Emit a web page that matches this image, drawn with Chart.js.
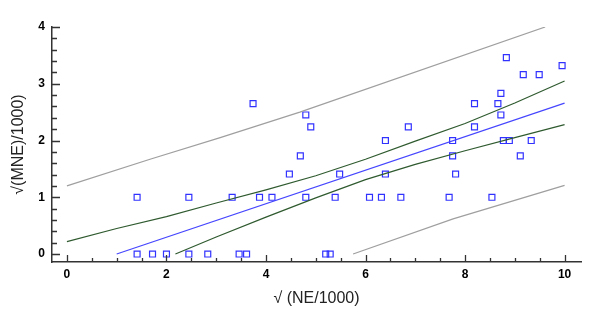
<!DOCTYPE html>
<html>
<head>
<meta charset="utf-8">
<script src="https://cdn.jsdelivr.net/npm/chart.js@4.4.1/dist/chart.umd.min.js"></script>
<style>
  html, body { margin: 0; padding: 0; background: #fff; }
  #wrap { width: 605px; height: 316px; position: relative; }
</style>
</head>
<body>
<div id="wrap"><canvas id="scatterChart"></canvas></div>
<script>
// observed points, sqrt scale
const pointsX = [
  1.41, 1.72, 2.00, 2.45, 2.83, 3.46, 3.61, 5.20, 5.29,
  1.41, 2.45, 3.32, 3.87, 4.12, 4.80, 5.39, 6.08, 6.32, 6.71, 7.68, 8.54,
  4.47, 5.48, 6.40, 7.81,
  4.69, 7.75, 9.11,
  6.40, 7.75, 8.77, 8.89, 9.33,
  4.90, 6.86, 8.19,
  4.80, 8.72,
  3.74, 8.19, 8.66,
  8.72,
  9.17, 9.49,
  9.95,
  8.83,
];
const pointsY = [
  0, 0, 0, 0, 0, 0, 0, 0, 0,
  1, 1, 1, 1, 1, 1, 1, 1, 1, 1, 1, 1,
  1.41, 1.41, 1.41, 1.41,
  1.73, 1.73, 1.73,
  2, 2, 2, 2, 2,
  2.24, 2.24, 2.24,
  2.45, 2.45,
  2.65, 2.65, 2.65,
  2.83,
  3.16, 3.16,
  3.32,
  3.46,
];

// regression line
const fitX = [1.0, 10.0];
const fitY = [0, 2.66];

// confidence band
const confUpperX = [0, 1, 2, 3, 4, 5, 6, 7, 8, 9, 10];
const confUpperY = [0.22, 0.45, 0.66, 0.90, 1.13, 1.38, 1.67, 1.99, 2.30, 2.66, 3.05];
const confLowerX = [2.18, 3, 4, 5, 6, 7, 8, 9, 10];
const confLowerY = [0, 0.30, 0.65, 0.99, 1.31, 1.58, 1.82, 2.05, 2.28];

// prediction band
const predUpperX = [0, 1.67, 3.08, 4.68, 9.61];
const predUpperY = [1.2, 1.67, 2.05, 2.5, 4.0];
const predLowerX = [5.75, 7.76, 10];
const predLowerY = [0, 0.62, 1.21];

const xTickLabels = [0, 2, 4, 6, 8, 10];
const yTickLabels = [0, 1, 2, 3, 4];

const FONT = "Arial, 'Liberation Sans', sans-serif";
const AXIS_COLOR = "#333333";

const toPoints = (xs, ys) => xs.map((x, i) => ({ x, y: ys[i] }));

const lineDataset = (xs, ys, color) => ({
  data: toPoints(xs, ys),
  showLine: true,
  borderColor: color,
  borderWidth: 1.2,
  pointRadius: 0,
  fill: false,
  tension: 0,
});

// inward tick marks along the two axes
const innerTicks = {
  id: "innerTicks",
  afterDatasetsDraw(chart) {
    const { ctx, chartArea } = chart;
    const xScale = chart.scales.x;
    const yScale = chart.scales.y;
    const bottom = Math.round(chartArea.bottom);
    const left = Math.round(chartArea.left);
    ctx.save();
    ctx.strokeStyle = AXIS_COLOR;
    ctx.lineWidth = 1.3;
    ctx.beginPath();
    for (let i = 0; i <= 20; i++) {
      const px = Math.round(xScale.getPixelForValue(i * 0.5)) + 0.5;
      const len = i % 4 === 0 ? 7 : 4;
      ctx.moveTo(px, bottom);
      ctx.lineTo(px, bottom - len);
    }
    for (let i = 0; i <= 20; i++) {
      const py = Math.round(yScale.getPixelForValue(i * 0.2)) + 0.5;
      const len = i % 5 === 0 ? 8 : 5;
      ctx.moveTo(left, py);
      ctx.lineTo(left + len, py);
    }
    ctx.stroke();
    ctx.restore();
  },
};

function buildChart() {
  const ctx = document.getElementById("scatterChart").getContext("2d");
  return new Chart(ctx, {
    type: "scatter",
    data: {
      datasets: [
        lineDataset(predUpperX, predUpperY, "#9f9f9f"),
        lineDataset(predLowerX, predLowerY, "#9f9f9f"),
        lineDataset(confUpperX, confUpperY, "#2f5a2f"),
        lineDataset(confLowerX, confLowerY, "#2f5a2f"),
        lineDataset(fitX, fitY, "#4646ff"),
        {
          data: toPoints(pointsX, pointsY),
          pointStyle: "rect",
          pointRadius: 4.2,
          pointBorderColor: "#3232ff",
          pointBackgroundColor: "rgba(255,255,255,0)",
          pointBorderWidth: 1.2,
          showLine: false,
        },
      ],
    },
    options: {
      responsive: true,
      maintainAspectRatio: false,
      animation: false,
      layout: { padding: { top: 27, right: 24, left: 0, bottom: 0 } },
      plugins: {
        legend: { display: false },
        tooltip: { enabled: false },
      },
      scales: {
        x: {
          type: "linear",
          min: -0.3,
          max: 10.33,
          afterFit: (scale) => { scale.height = 54; },
          afterBuildTicks: (axis) => {
            axis.ticks = xTickLabels.map((v) => ({ value: v }));
          },
          grid: { display: false, drawTicks: false },
          border: { display: true, color: AXIS_COLOR, width: 1.5 },
          ticks: {
            padding: 5,
            color: "#000",
            maxRotation: 0,
            font: { family: FONT, size: 12, weight: "bold" },
          },
          title: {
            display: true,
            text: "√ (NE/1000)",
            color: "#222",
            padding: { top: 0, bottom: 8 },
            font: { family: FONT, size: 16 },
          },
        },
        y: {
          type: "linear",
          min: -0.14,
          max: 4,
          afterFit: (scale) => { scale.width = 52; },
          afterBuildTicks: (axis) => {
            axis.ticks = yTickLabels.map((v) => ({ value: v }));
          },
          grid: { display: false, drawTicks: false },
          border: { display: true, color: AXIS_COLOR, width: 1.5 },
          ticks: {
            padding: 7,
            color: "#000",
            font: { family: FONT, size: 12, weight: "bold" },
          },
          title: {
            display: true,
            text: "√(MNE)/1000)",
            color: "#222",
            padding: { top: 9, bottom: 0 },
            font: { family: FONT, size: 16 },
          },
        },
      },
    },
    plugins: [innerTicks],
  });
}

document.addEventListener("DOMContentLoaded", () => buildChart());
</script>
</body>
</html>
